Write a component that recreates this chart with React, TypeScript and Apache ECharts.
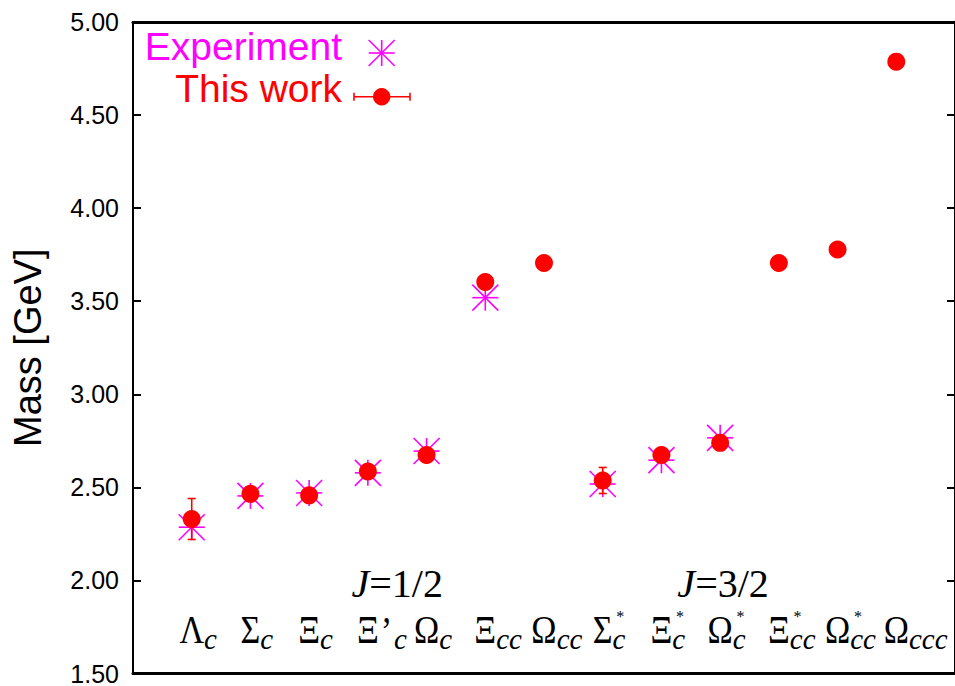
import React, { useEffect, useRef } from "react";
import * as echarts from "echarts";

// Charmed baryons along the x axis: base letter, prime, subscript and whether it carries a *
const baryonSymbols = ["Λ", "Σ", "Ξ", "Ξ", "Ω", "Ξ", "Ω", "Σ", "Ξ", "Ω", "Ξ", "Ω", "Ω"];
const baryonPrimed = [false, false, false, true, false, false, false, false, false, false, false, false, false];
const baryonSubscripts = ["c", "c", "c", "c", "c", "cc", "cc", "c", "c", "c", "cc", "cc", "ccc"];
const baryonStarred = [false, false, false, false, false, false, false, true, true, true, true, true, false];

// Masses in GeV
const thisWork = [2.33, 2.465, 2.457, 2.585, 2.674, 3.603, 3.705, 2.537, 2.674, 2.739, 3.705, 3.778, 4.787];
const thisWorkErr = [0.11, 0, 0, 0, 0, 0, 0, 0.07, 0, 0, 0, 0, 0];
const experiment = [2.286, 2.454, 2.47, 2.578, 2.695, 3.519, null, 2.518, 2.646, 2.766, null, null, null];

// Spin-group captions, placed at an x position on the baryon axis
const spinCaptions = [
  { value: "=1/2", at: 3.5 },
  { value: "=3/2", at: 9.05 },
];

const yTicks = { min: 1.5, max: 5, step: 0.5 };

const SANS = "Liberation Sans";
const SERIF = "Liberation Serif";
const MAGENTA = "#ff00ff";
const RED = "#ff0000";

function textWidth(text: string, font: string): number {
  const ctx = document.createElement("canvas").getContext("2d");
  if (!ctx) return text.length * 14;
  ctx.font = font;
  return ctx.measureText(text).width;
}

function asterisk(cx: number, cy: number, h: number) {
  const segs = [
    [-h, 0, h, 0],
    [0, -h, 0, h],
    [-h, -h, h, h],
    [-h, h, h, -h],
  ];
  return segs.map((s) => ({
    type: "line",
    shape: { x1: cx + s[0], y1: cy + s[1], x2: cx + s[2], y2: cy + s[3] },
    style: { stroke: MAGENTA, lineWidth: 1.6 },
  }));
}

export default function App() {
  const ref = useRef<HTMLDivElement>(null);

  useEffect(() => {
    if (!ref.current) return;
    const chart = echarts.init(ref.current, null, { renderer: "svg" });

    const GREEK_SIZE = 40;
    const GREEK_SQUEEZE = 0.85;
    const SUB_SIZE = 29;
    const STAR_SIZE = 16;
    const greekFont = `${GREEK_SIZE}px "${SERIF}"`;
    const subFont = `italic ${SUB_SIZE}px "${SERIF}"`;

    const expData = experiment
      .map((v, i) => (v == null ? null : [i, v]))
      .filter((d) => d !== null) as number[][];
    const errData = thisWork
      .map((v, i) => [i, v, thisWorkErr[i]])
      .filter((d) => d[2] > 0);
    const workData = thisWork.map((v, i) => [i, v]);
    const labelData = baryonSymbols.map((_, i) => [i, yTicks.min]);

    const hiddenX = (position: string) => ({
      type: "value",
      min: -1,
      max: 13,
      position,
      axisLine: { show: true, onZero: false, lineStyle: { color: "#000", width: 3 } },
      axisTick: { show: false },
      axisLabel: { show: false },
      splitLine: { show: false },
    });

    const option: any = {
      animation: false,
      backgroundColor: "#fff",
      grid: { left: 133, top: 22, width: 826, height: 653, containLabel: false },
      xAxis: [hiddenX("bottom"), hiddenX("top")],
      yAxis: [
        {
          type: "value",
          min: yTicks.min,
          max: yTicks.max,
          interval: yTicks.step,
          position: "left",
          axisLine: { show: true, onZero: false, lineStyle: { color: "#000", width: 2 } },
          axisTick: { show: true, inside: true, length: 8, lineStyle: { color: "#000", width: 2 } },
          axisLabel: {
            formatter: (v: number) => v.toFixed(2),
            fontSize: 25,
            fontFamily: SANS,
            color: "#000",
            margin: 14,
          },
          splitLine: { show: false },
          name: "Mass [GeV]",
          nameLocation: "middle",
          nameGap: 86,
          nameTextStyle: { fontSize: 38, fontFamily: SANS, color: "#000" },
        },
        {
          type: "value",
          min: yTicks.min,
          max: yTicks.max,
          interval: yTicks.step,
          position: "right",
          axisLine: { show: true, onZero: false, lineStyle: { color: "#000", width: 3 } },
          axisTick: { show: true, inside: true, length: 8, lineStyle: { color: "#000", width: 2 } },
          axisLabel: { show: false },
          splitLine: { show: false },
        },
      ],
      series: [
        {
          name: "Experiment",
          type: "custom",
          z: 2,
          data: expData,
          renderItem: (params: any, api: any) => {
            const p = api.coord([api.value(0), api.value(1)]);
            return { type: "group", children: asterisk(p[0], p[1], 13) };
          },
        },
        {
          name: "This work error",
          type: "custom",
          z: 3,
          data: errData,
          renderItem: (params: any, api: any) => {
            const x = api.value(0);
            const v = api.value(1);
            const e = api.value(2);
            const top = api.coord([x, v + e]);
            const bot = api.coord([x, v - e]);
            const cap = 4;
            const st = { stroke: RED, lineWidth: 1.6 };
            return {
              type: "group",
              children: [
                { type: "line", shape: { x1: top[0], y1: top[1], x2: bot[0], y2: bot[1] }, style: st },
                { type: "line", shape: { x1: top[0] - cap, y1: top[1], x2: top[0] + cap, y2: top[1] }, style: st },
                { type: "line", shape: { x1: bot[0] - cap, y1: bot[1], x2: bot[0] + cap, y2: bot[1] }, style: st },
              ],
            };
          },
        },
        {
          name: "This work",
          type: "scatter",
          z: 4,
          symbol: "circle",
          symbolSize: 18,
          itemStyle: { color: RED, opacity: 1 },
          data: workData,
        },
        {
          name: "Baryon labels",
          type: "custom",
          z: 5,
          silent: true,
          data: labelData,
          renderItem: (params: any, api: any) => {
            const i = params.dataIndex;
            const base = api.coord([api.value(0), api.value(1)]);
            const x = base[0];
            const baseline = base[1] - 24;
            const g = baryonSymbols[i];
            const gw = textWidth(g, greekFont) * GREEK_SQUEEZE;
            const cw = textWidth("c", subFont);
            let subX = x + gw / 2;
            const children: any[] = [
              {
                type: "text",
                x,
                y: baseline - GREEK_SIZE / 2,
                scaleX: GREEK_SQUEEZE,
                style: {
                  text: g,
                  fontSize: GREEK_SIZE,
                  fontFamily: SERIF,
                  fill: "#000",
                  align: "center",
                  verticalAlign: "middle",
                  lineHeight: 32,
                },
              },
            ];
            if (baryonPrimed[i]) {
              const pw = textWidth("’", greekFont) * GREEK_SQUEEZE;
              children.push({
                type: "text",
                x: subX + 2,
                y: baseline - 19,
                scaleX: GREEK_SQUEEZE,
                style: {
                  text: "’",
                  fontSize: GREEK_SIZE,
                  fontFamily: SERIF,
                  fill: "#000",
                  align: "left",
                  verticalAlign: "middle",
                  lineHeight: 14,
                },
              });
              subX += pw + 4;
            }
            const subMid = baseline + 4 - SUB_SIZE / 2;
            children.push({
              type: "text",
              x: subX,
              y: subMid,
              style: {
                text: baryonSubscripts[i],
                fontSize: SUB_SIZE,
                fontStyle: "italic",
                fontFamily: SERIF,
                fill: "#000",
                align: "left",
                verticalAlign: "middle",
                lineHeight: 20,
              },
            });
            if (baryonStarred[i]) {
              children.push({
                type: "text",
                x: subX + cw * 0.6,
                y: subMid - 23,
                style: {
                  text: "*",
                  fontSize: STAR_SIZE,
                  fontFamily: SERIF,
                  fill: "#000",
                  align: "center",
                  verticalAlign: "middle",
                  lineHeight: 12,
                },
              });
            }
            return { type: "group", children };
          },
        },
        {
          name: "Spin captions",
          type: "custom",
          z: 5,
          silent: true,
          data: spinCaptions.map((c) => [c.at, yTicks.min]),
          renderItem: (params: any, api: any) => {
            const c = spinCaptions[params.dataIndex];
            const p = api.coord([api.value(0), api.value(1)]);
            return {
              type: "text",
              x: p[0],
              y: p[1] - 90,
              style: {
                text: `{j|J}{r|${c.value}}`,
                align: "center",
                verticalAlign: "middle",
                rich: {
                  j: { fontSize: 40, fontFamily: SERIF, fontStyle: "italic", fill: "#000", lineHeight: 26 },
                  r: { fontSize: 40, fontFamily: SERIF, fill: "#000", lineHeight: 26 },
                },
              },
            };
          },
        },
      ],
      graphic: [
        {
          type: "text",
          right: 955 - 342,
          top: 27,
          style: { text: "Experiment", fontSize: 39, fontFamily: SANS, fill: MAGENTA },
        },
        {
          type: "text",
          right: 955 - 342,
          top: 69,
          style: { text: "This work", fontSize: 39, fontFamily: SANS, fill: RED },
        },
        { type: "group", children: asterisk(381.7, 53, 13) },
        {
          type: "group",
          children: [
            { type: "line", shape: { x1: 354, y1: 96.7, x2: 410, y2: 96.7 }, style: { stroke: RED, lineWidth: 1.6 } },
            { type: "line", shape: { x1: 354, y1: 92.7, x2: 354, y2: 100.7 }, style: { stroke: RED, lineWidth: 1.6 } },
            { type: "line", shape: { x1: 410, y1: 92.7, x2: 410, y2: 100.7 }, style: { stroke: RED, lineWidth: 1.6 } },
            { type: "circle", shape: { cx: 381.7, cy: 96.7, r: 8.7 }, style: { fill: RED } },
          ],
        },
      ],
    };

    chart.setOption(option);
    return () => chart.dispose();
  }, []);

  return (
    <div
      ref={ref}
      style={{ position: "absolute", left: 0, top: 0, width: 955, height: 686, background: "#fff" }}
    />
  );
}
